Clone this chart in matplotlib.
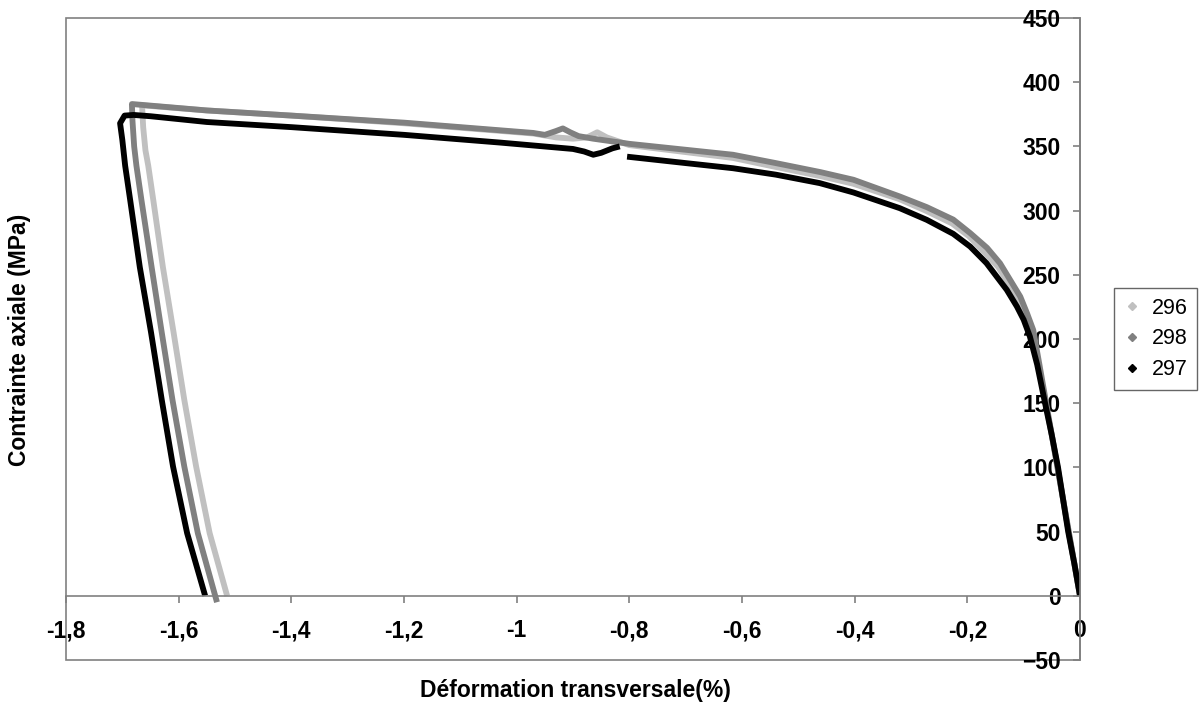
import numpy as np
import matplotlib.pyplot as plt
from matplotlib.lines import Line2D
from matplotlib.patches import Rectangle

plt.rcParams['font.family'] = ['Liberation Sans', 'DejaVu Sans']

# transverse strain (%) / axial stress (MPa)
x_296 = [0, -0.010, -0.020, -0.030, -0.040, -0.050, -0.061, -0.074, -0.086, -0.096,
         -0.108, -0.125, -0.145, -0.168, -0.197, -0.227, -0.274, -0.321, -0.403, -0.462,
         -0.54, -0.616, -0.80, -0.82, -0.84, -0.857, -0.875, -0.90, -0.93, -0.97,
         -1.20, -1.40, -1.55, -1.665, -1.663, -1.659, -1.654, -1.645, -1.628, -1.609,
         -1.590, -1.569, -1.545, -1.514]
y_296 = [0, 25, 50, 75, 100, 125, 150, 180, 204, 218,
         230, 242, 256, 267, 280, 290, 300, 309, 321, 327,
         334, 341, 351, 354, 357, 361, 357, 356, 357, 360,
         368, 374, 378, 382, 365, 347, 335, 308, 256, 205,
         152.6, 100.7, 48.8, 0]

x_298 = [0, -0.010, -0.020, -0.030, -0.040, -0.050, -0.060, -0.072, -0.083, -0.094,
         -0.106, -0.124, -0.142, -0.165, -0.195, -0.225, -0.272, -0.320, -0.402, -0.461,
         -0.54, -0.616, -0.80, -0.864, -0.89, -0.905, -0.918, -0.93, -0.95, -0.971,
         -1.20, -1.40, -1.55, -1.683, -1.682, -1.679, -1.675, -1.666, -1.648, -1.630,
         -1.611, -1.590, -1.566, -1.532]
y_298 = [0, 25, 50, 75, 100, 125, 150, 180, 207, 220,
         233, 246, 259, 271, 282.5, 293, 302.7, 311, 324, 330,
         337, 343.5, 352, 356, 358, 361, 364, 362, 359, 360.5,
         368.5, 374, 378, 383, 370, 350, 335, 308, 256, 205,
         152.6, 100.7, 48.8, -5]

x_297 = [0, -0.010, -0.021, -0.030, -0.039, -0.050, -0.062, -0.076, -0.089, -0.100,
         -0.112, -0.130, -0.148, -0.166, -0.195, -0.225, -0.272, -0.320, -0.402, -0.462,
         -0.54, -0.616, -0.70, -0.804, np.nan, -0.817, -0.83, -0.85, -0.864, -0.88,
         -0.90, -1.03, -1.20, -1.40, -1.55, -1.65, -1.680, -1.696, -1.704, -1.700,
         -1.695, -1.686, -1.669, -1.649, -1.630, -1.610, -1.585, -1.553]
y_297 = [0, 25, 50, 75, 100, 125, 150, 180, 202, 215,
         225.3, 238.3, 248.7, 259.1, 272, 281.9, 292.8, 301.9, 314.1, 321.4,
         328, 333, 337, 342, np.nan, 350, 348.5, 345, 343.5, 346,
         348, 353, 359, 365, 369, 373.5, 374.5, 374, 368, 355,
         335, 308, 256, 205, 152.6, 100.7, 48.8, 0]

series = [("296", x_296, y_296, "#c0c0c0"),
          ("298", x_298, y_298, "#808080"),
          ("297", x_297, y_297, "#000000")]

xticks = [-1.8, -1.6, -1.4, -1.2, -1.0, -0.8, -0.6, -0.4, -0.2, 0]
xlabels = ["-1,8", "-1,6", "-1,4", "-1,2", "-1", "-0,8", "-0,6", "-0,4", "-0,2", "0"]
yticks = [-50, 0, 50, 100, 150, 200, 250, 300, 350, 400, 450]

fig = plt.figure(figsize=(12, 7.18), dpi=100)
ax = fig.add_axes([66/1200, 1-660/718, (1080-66)/1200, (660-18)/718])

for name, xs, ys, col in series:
    ax.plot(xs, ys, color=col, lw=4.2, solid_capstyle='butt', solid_joinstyle='round')

ax.set_xlim(-1.8, 0)
ax.set_ylim(-50, 450)

# axes cross at 0
ax.spines['left'].set_position(('data', 0))
ax.spines['bottom'].set_position(('data', 0))
ax.spines['top'].set_visible(False)
ax.spines['right'].set_visible(False)
for s in ['left', 'bottom']:
    ax.spines[s].set_color('#808080')
    ax.spines[s].set_linewidth(1.2)

# plot area border
ax.add_patch(Rectangle((0, 0), 1, 1, transform=ax.transAxes, fill=False,
                       edgecolor='#808080', lw=1.2, clip_on=False, zorder=0))

ax.set_xticks(xticks)
ax.set_xticklabels(xlabels)
ax.set_yticks(yticks)
ax.tick_params(direction='out', length=5, width=1.2, color='#808080',
               labelsize=16.5)
ax.tick_params(axis='x', pad=12)
ax.tick_params(axis='y', pad=9)
for lab in ax.get_xticklabels() + ax.get_yticklabels():
    lab.set_fontweight('bold')

fig.text(575/1200, 1-690/718, "Déformation transversale(%)", ha='center', va='center',
         fontsize=16.5, fontweight='bold')
fig.text(20/1200, 1-340/718, "Contrainte axiale (MPa)", ha='center', va='center',
         rotation=90, fontsize=16.5, fontweight='bold')

handles = [Line2D([], [], ls='none', marker='D', markersize=4, color=c) for _, _, _, c in series]
fig.legend(handles, [s[0] for s in series], loc='center left',
           bbox_to_anchor=(1114/1200, 1-339/718), fontsize=15.5, frameon=True,
           fancybox=False, edgecolor='#404040', handlelength=0.8, handletextpad=0.5,
           borderpad=0.45, labelspacing=0.45, borderaxespad=0)

fig.savefig("out.png", dpi=100)
